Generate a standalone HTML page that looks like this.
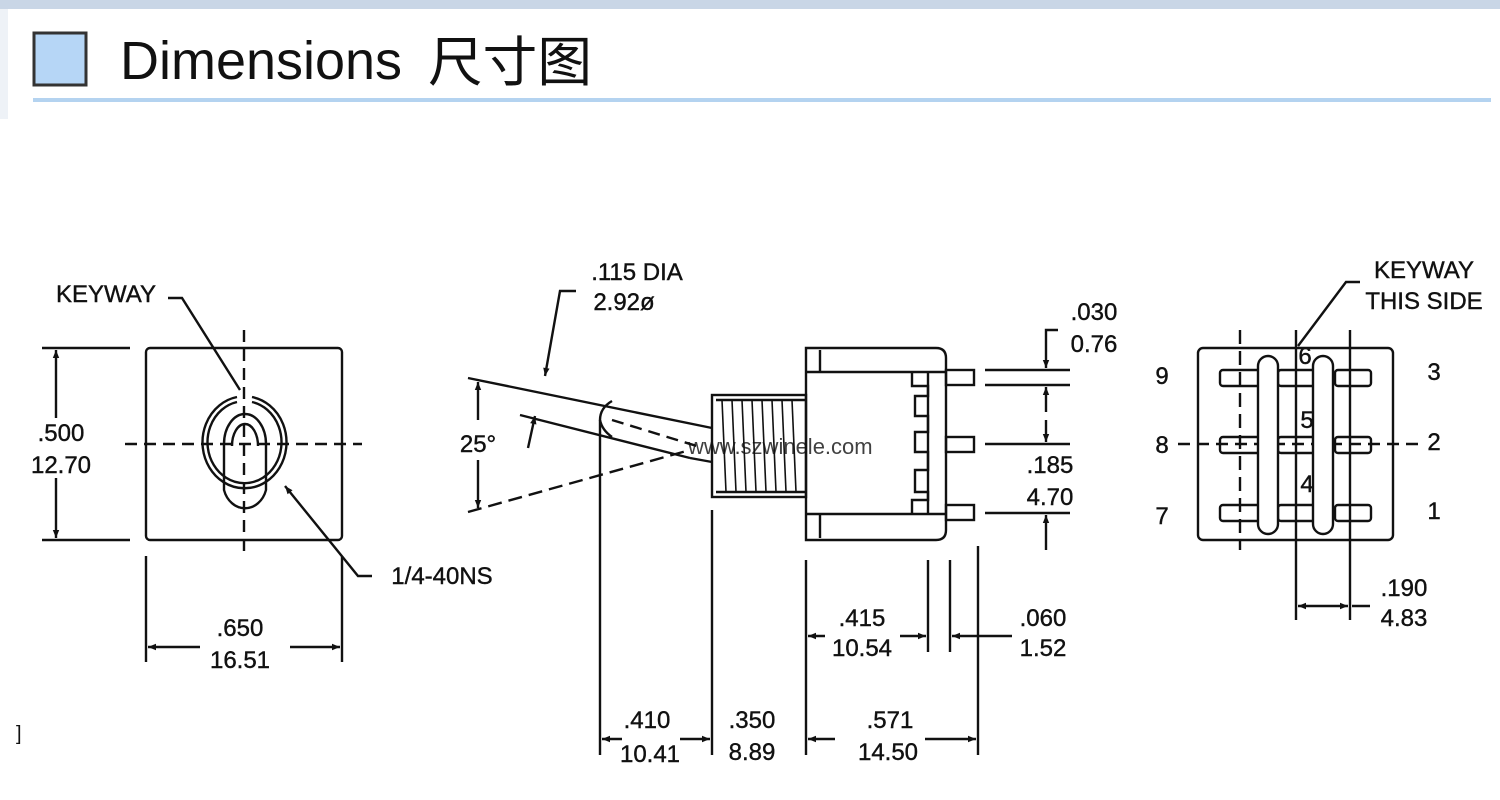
<!DOCTYPE html>
<html><head><meta charset="utf-8"><style>
html,body{margin:0;padding:0;background:#fff;width:1500px;height:800px;overflow:hidden}
svg{display:block}
text{font-family:"Liberation Sans","Noto Sans CJK SC",sans-serif;fill:#111}
</style></head><body>
<svg width="1500" height="800" viewBox="0 0 1500 800" xmlns="http://www.w3.org/2000/svg">
<defs>
<marker id="a" viewBox="0 0 10 10" refX="10" refY="5" markerWidth="10" markerHeight="8" orient="auto-start-reverse" markerUnits="userSpaceOnUse"><path d="M0,1 L10,5 L0,9 Z" fill="#111"/></marker>
</defs>
<!-- header -->
<rect x="0" y="0" width="1500" height="9" fill="#c9d6e6"/>
<rect x="0" y="9" width="8" height="110" fill="#eef2f7"/>
<rect x="34" y="33" width="52" height="52" fill="#b6d6f6" stroke="#333" stroke-width="3"/>
<text x="120" y="79" font-size="54" textLength="282" lengthAdjust="spacingAndGlyphs">Dimensions</text>
<text x="428" y="81" font-size="54" textLength="164" lengthAdjust="spacingAndGlyphs" font-family="Noto Sans CJK SC, sans-serif">尺寸图</text>
<rect x="33" y="98" width="1458" height="4" fill="#b4d3f0"/>
<text x="16" y="740" font-size="20" fill="#555">]</text>

<g stroke="#111" stroke-width="2.4" fill="none">
<!-- LEFT VIEW -->
<rect x="146" y="348" width="196" height="192" rx="4"/>
<line x1="125" y1="444" x2="362" y2="444" stroke-dasharray="12,7"/>
<line x1="244" y1="330" x2="244" y2="552" stroke-dasharray="12,7"/>
<line x1="42" y1="348" x2="130" y2="348"/><line x1="42" y1="540" x2="130" y2="540"/>
<line x1="56" y1="350" x2="56" y2="418" marker-start="url(#a)"/>
<line x1="56" y1="478" x2="56" y2="538" marker-end="url(#a)"/>
<line x1="146" y1="556" x2="146" y2="662"/><line x1="342" y1="556" x2="342" y2="662"/>
<line x1="148" y1="647" x2="200" y2="647" marker-start="url(#a)"/>
<line x1="290" y1="647" x2="340" y2="647" marker-end="url(#a)"/>
<path d="M237,397 A42,46 0 1,0 252,397"/>
<path d="M237,402 A37,41 0 1,0 252,402"/>
<path d="M224,444 A21,30 0 0,1 266,444 L266,468"/>
<path d="M232,446 A13,22 0 0,1 258,446"/>
<path d="M224,444 L224,490 A22,26 0 0,0 266,490 L266,468"/>
<polyline points="168,298 182,298 240,390"/>
<polyline points="372,576 358,576 285,486" marker-end="url(#a)"/>

<!-- MIDDLE VIEW -->
<path d="M806,348 L936,348 Q946,348 946,358 L946,530 Q946,540 936,540 L806,540 Z"/>
<line x1="806" y1="372" x2="946" y2="372"/><line x1="806" y1="514" x2="946" y2="514"/>
<line x1="820" y1="350" x2="820" y2="372"/><line x1="820" y1="514" x2="820" y2="538"/>
<path d="M912,372 L912,386 L928,386 L928,396 L915,396 L915,416 L928,416 L928,432 L915,432 L915,452 L928,452 L928,470 L915,470 L915,492 L928,492 L928,500 L912,500 L912,514"/>
<line x1="928" y1="372" x2="928" y2="514"/>
<rect x="946" y="370" width="28" height="15"/>
<rect x="946" y="437" width="28" height="15"/>
<rect x="946" y="505" width="28" height="15"/>
<rect x="712" y="395" width="94" height="102"/>
<line x1="716" y1="400" x2="806" y2="400"/><line x1="716" y1="492" x2="806" y2="492"/>
<g stroke-width="1.6">
<line x1="722" y1="400" x2="726" y2="492"/><line x1="732" y1="400" x2="736" y2="492"/><line x1="742" y1="400" x2="746" y2="492"/>
<line x1="752" y1="400" x2="756" y2="492"/><line x1="762" y1="400" x2="766" y2="492"/><line x1="772" y1="400" x2="776" y2="492"/>
<line x1="782" y1="400" x2="786" y2="492"/><line x1="792" y1="400" x2="796" y2="492"/>
</g>
<!-- lever -->
<line x1="468" y1="378" x2="712" y2="428"/>
<line x1="520" y1="415" x2="690" y2="458"/>
<line x1="690" y1="458" x2="712" y2="462"/>
<path d="M612,401 Q600,408 600,420 Q602,430 612,437"/>
<line x1="612" y1="420" x2="700" y2="447" stroke-dasharray="12,7"/>
<line x1="468" y1="512" x2="690" y2="450" stroke-dasharray="14,7"/>
<line x1="478" y1="382" x2="478" y2="420" marker-start="url(#a)"/>
<line x1="478" y1="460" x2="478" y2="508" marker-end="url(#a)"/>
<polyline points="576,291 560,291 545,376" marker-end="url(#a)"/>
<line x1="528" y1="448" x2="535" y2="416" marker-end="url(#a)"/>
<!-- extension lines -->
<line x1="600" y1="420" x2="600" y2="755"/>
<line x1="712" y1="510" x2="712" y2="755"/>
<line x1="806" y1="560" x2="806" y2="755"/>
<line x1="928" y1="560" x2="928" y2="652"/>
<line x1="950" y1="560" x2="950" y2="652"/>
<line x1="978" y1="546" x2="978" y2="755"/>
<line x1="602" y1="739" x2="622" y2="739" marker-start="url(#a)"/>
<line x1="680" y1="739" x2="710" y2="739" marker-end="url(#a)"/>
<line x1="808" y1="739" x2="835" y2="739" marker-start="url(#a)"/>
<line x1="925" y1="739" x2="976" y2="739" marker-end="url(#a)"/>
<line x1="808" y1="636" x2="825" y2="636" marker-start="url(#a)"/>
<line x1="900" y1="636" x2="926" y2="636" marker-end="url(#a)"/>
<line x1="1012" y1="636" x2="952" y2="636" marker-end="url(#a)"/>
<!-- right dims of middle -->
<line x1="985" y1="370" x2="1070" y2="370"/>
<line x1="985" y1="385" x2="1070" y2="385"/>
<line x1="985" y1="444" x2="1070" y2="444"/>
<line x1="985" y1="513" x2="1070" y2="513"/>
<polyline points="1058,330 1046,330 1046,368" marker-end="url(#a)"/>
<line x1="1046" y1="412" x2="1046" y2="387" marker-end="url(#a)"/>
<line x1="1046" y1="420" x2="1046" y2="442" marker-end="url(#a)"/>
<line x1="1046" y1="550" x2="1046" y2="515" marker-end="url(#a)"/>

<!-- RIGHT VIEW -->
<rect x="1198" y="348" width="195" height="192" rx="5"/>
<line x1="1240" y1="330" x2="1240" y2="550" stroke-dasharray="14,7"/>
<line x1="1296" y1="330" x2="1296" y2="620"/>
<line x1="1350" y1="330" x2="1350" y2="620"/>
<line x1="1178" y1="444" x2="1420" y2="444" stroke-dasharray="12,7"/>
<rect x="1220" y="370" width="42" height="16" rx="3"/><rect x="1278" y="370" width="40" height="16" rx="3"/><rect x="1335" y="370" width="36" height="16" rx="3"/>
<rect x="1220" y="437" width="42" height="16" rx="3"/><rect x="1278" y="437" width="40" height="16" rx="3"/><rect x="1335" y="437" width="36" height="16" rx="3"/>
<rect x="1220" y="505" width="42" height="16" rx="3"/><rect x="1278" y="505" width="40" height="16" rx="3"/><rect x="1335" y="505" width="36" height="16" rx="3"/>
<rect x="1258" y="356" width="20" height="178" rx="10" fill="#fff"/>
<rect x="1313" y="356" width="20" height="178" rx="10" fill="#fff"/>
<polyline points="1360,282 1346,282 1298,346"/>
<line x1="1298" y1="606" x2="1320" y2="606" marker-start="url(#a)"/>
<line x1="1320" y1="606" x2="1348" y2="606" marker-end="url(#a)"/>
<line x1="1352" y1="606" x2="1370" y2="606"/>
</g>

<g font-size="24" text-anchor="middle" style="stroke:#111;stroke-width:0.4">
<text x="106" y="302">KEYWAY</text>
<text x="61" y="441">.500</text><text x="61" y="473">12.70</text>
<text x="240" y="636">.650</text><text x="240" y="668">16.51</text>
<text x="442" y="584">1/4-40NS</text>
<text x="637" y="280">.115 DIA</text><text x="624" y="310">2.92ø</text>
<text x="478" y="452">25°</text>
<text x="647" y="728">.410</text><text x="650" y="762">10.41</text>
<text x="752" y="728">.350</text><text x="752" y="760">8.89</text>
<text x="890" y="728">.571</text><text x="888" y="760">14.50</text>
<text x="862" y="626">.415</text><text x="862" y="656">10.54</text>
<text x="1043" y="626">.060</text><text x="1043" y="656">1.52</text>
<text x="1094" y="320">.030</text><text x="1094" y="352">0.76</text>
<text x="1050" y="473">.185</text><text x="1050" y="505">4.70</text>
<text x="1424" y="278">KEYWAY</text><text x="1424" y="309">THIS SIDE</text>
<text x="1162" y="384">9</text><text x="1162" y="453">8</text><text x="1162" y="524">7</text>
<text x="1434" y="380">3</text><text x="1434" y="450">2</text><text x="1434" y="519">1</text>
<text x="1305" y="364">6</text><text x="1307" y="428">5</text><text x="1307" y="492">4</text>
<text x="1404" y="596">.190</text><text x="1404" y="626">4.83</text>
</g>
<text x="688" y="454" font-size="22" fill="#999" opacity="0.8">www.szwinele.com</text>
</svg>
</body></html>
